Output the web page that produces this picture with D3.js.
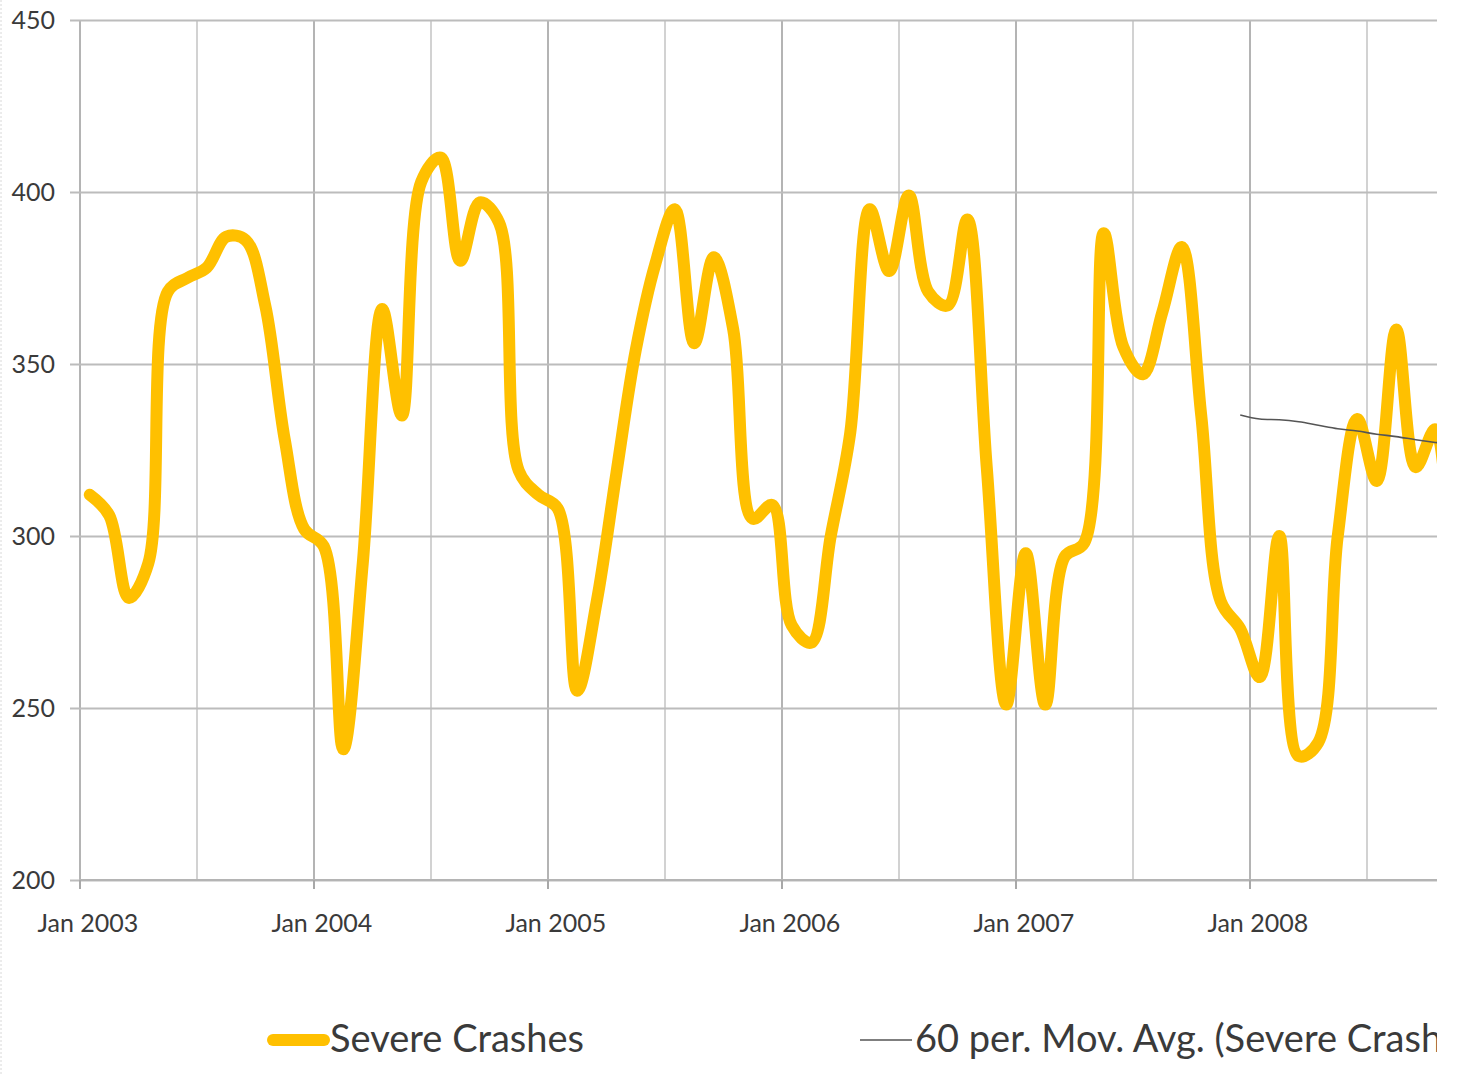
<!DOCTYPE html>
<html>
<head>
<meta charset="utf-8">
<script src="https://cdn.jsdelivr.net/npm/d3@7"></script>
<style>
  body { margin: 0; background: #fff; }
  text { font-family: Lato, Carlito, "Open Sans", sans-serif; fill: #3a3a3a; }
</style>
</head>
<body>
<svg id="chart" width="1458" height="1074"></svg>
<script>
// monthly severe crashes, Jan 2003 onwards
const crashes = [
    312, 306, 282, 292, 371, 375, 378, 387, 386, 367, 328, 302,
    297, 238, 292, 366, 335, 403, 410, 380, 397, 391, 319, 312,
    308, 255, 281, 318, 354, 379, 395, 356, 381, 360, 305, 309,
    274, 269, 300, 330, 395, 377, 399, 371, 367, 392, 320, 251,
    295, 251, 294, 298, 388, 355, 347, 365, 384, 335, 281, 273,
    259, 300, 236, 240, 300, 334, 316, 360, 320, 331, 240
]
// 60 period moving average, first value at month index 59 (Dec 2007)
const movAvgStart = 59
const movAvg = [335.2, 334.0, 333.8, 333.2, 332.2, 331.2, 330.5, 329.6, 328.9, 328.0, 327.2, 326.5]
const yTicks = [200, 250, 300, 350, 400, 450]
const yearLabels = ["Jan 2003", "Jan 2004", "Jan 2005", "Jan 2006", "Jan 2007", "Jan 2008"]
const seriesNames = ["Severe Crashes", "60 per. Mov. Avg. (Severe Crashes)"]

const margin = {top: 20, left: 80}
    , width = 1437 - margin.left
    , height = 860
    , monthPx = 19.5

const svg = d3.select("#chart")

svg.append("defs").append("clipPath")
    .attr("id", "cut")
    .append("rect")
    .attr("x", 0).attr("y", 0)
    .attr("width", 1437).attr("height", 1074)

const root = svg.append("g").attr("clip-path", "url(#cut)")

// faint outer border on the left
root.append("line")
    .attr("x1", 1).attr("x2", 1).attr("y1", 0).attr("y2", 1074)
    .attr("stroke", "#d8d8d8").attr("stroke-dasharray", "2,2")

const xScale = d3.scaleLinear()
    .domain([0, width / monthPx])
    .range([0, width])

const yScale = d3.scaleLinear()
    .domain([200, 450])
    .range([height, 0])

const graph = root.append("g")
    .attr("transform", `translate(${margin.left},${margin.top})`)

// vertical gridlines every 6 months, January ones a bit darker
const halfYears = d3.range(0, width / monthPx, 6)
graph.selectAll(".vgrid")
    .data(halfYears)
    .join("line")
    .attr("class", "vgrid")
    .attr("x1", d => xScale(d)).attr("x2", d => xScale(d))
    .attr("y1", 0).attr("y2", height)
    .attr("stroke", d => d % 12 === 0 ? "#b4b4b4" : "#d2d2d2")
    .attr("stroke-width", 2)

// y axis with gridlines
const yAxis = graph.append("g")
    .attr("class", "y axis")
    .attr("transform", "translate(-10,0)")
    .call(d3.axisLeft(yScale).tickValues(yTicks).tickSize(-width - 10))
yAxis.select(".domain").remove()
yAxis.selectAll(".tick line")
    .attr("stroke", "#bcbcbc").attr("stroke-width", 2)
yAxis.selectAll("text")
    .attr("font-size", 25)
    .attr("x", -15)
    .style("fill", "#3a3a3a")

// x axis: line + ticks at Januaries
graph.append("line")
    .attr("x1", 0).attr("x2", width)
    .attr("y1", height).attr("y2", height)
    .attr("stroke", "#b4b4b4").attr("stroke-width", 2)

const janMonths = yearLabels.map((d, i) => i * 12)
graph.selectAll(".xtick")
    .data(janMonths)
    .join("line")
    .attr("class", "xtick")
    .attr("x1", d => xScale(d)).attr("x2", d => xScale(d))
    .attr("y1", height).attr("y2", height + 9)
    .attr("stroke", "#a8a8a8").attr("stroke-width", 2)

graph.selectAll(".xlabel")
    .data(yearLabels)
    .join("text")
    .attr("class", "xlabel")
    .attr("x", (d, i) => xScale(i * 12 + 0.4))
    .attr("y", height + 52)
    .attr("text-anchor", "middle")
    .attr("font-size", 25)
    .text(d => d)

// lines
const line = d3.line()
    .x(d => xScale(d.m + 0.5))
    .y(d => yScale(d.v))
    .curve(d3.curveCatmullRom.alpha(0.5))

const plotClip = svg.select("defs").append("clipPath").attr("id", "plot")
plotClip.append("rect")
    .attr("x", -20).attr("y", -20)
    .attr("width", width + 20).attr("height", height + 40)

const lines = graph.append("g").attr("clip-path", "url(#plot)")

lines.append("path")
    .datum(crashes.map((v, i) => ({m: i, v: v})))
    .attr("d", line)
    .attr("fill", "none")
    .attr("stroke", "#ffc000")
    .attr("stroke-width", 12)
    .attr("stroke-linecap", "round")
    .attr("stroke-linejoin", "round")

lines.append("path")
    .datum(movAvg.map((v, i) => ({m: movAvgStart + i, v: v})))
    .attr("d", line)
    .attr("fill", "none")
    .attr("stroke", "#555")
    .attr("stroke-width", 1.6)

// legend
const legend = root.append("g").attr("class", "legend")
legend.append("line")
    .attr("x1", 273).attr("x2", 324)
    .attr("y1", 1040).attr("y2", 1040)
    .attr("stroke", "#ffc000").attr("stroke-width", 12)
    .attr("stroke-linecap", "round")
legend.append("text")
    .attr("x", 330).attr("y", 1052)
    .attr("font-size", 38)
    .text(seriesNames[0])
legend.append("line")
    .attr("x1", 860).attr("x2", 912)
    .attr("y1", 1040).attr("y2", 1040)
    .attr("stroke", "#555").attr("stroke-width", 1.6)
legend.append("text")
    .attr("x", 915).attr("y", 1052)
    .attr("font-size", 38)
    .text(seriesNames[1])
</script>
</body>
</html>
